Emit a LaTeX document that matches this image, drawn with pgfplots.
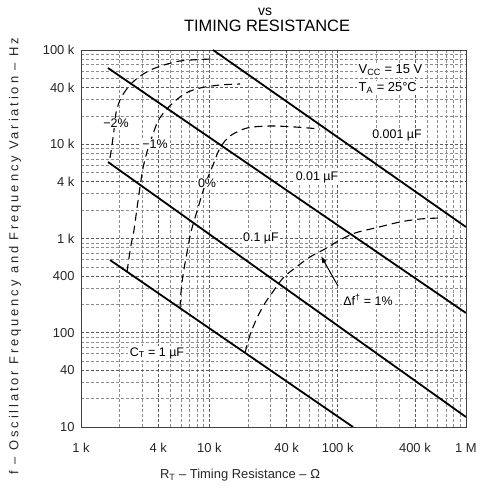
\documentclass[border=0pt]{standalone}
\usepackage{fontspec}
\setmainfont{Liberation Sans}
\usepackage{pgfplots}
\pgfplotsset{compat=1.18}
\usetikzlibrary{arrows.meta}
\newcommand{\ann}{\fontsize{12.5}{14}\selectfont}
\begin{document}
\begin{tikzpicture}
\begin{axis}[
  width=385bp, height=377bp, scale only axis,
  xmode=log, ymode=log,
  xmin=1000, xmax=1000000, ymin=10, ymax=100000,
  xtick={1000,4000,10000,40000,100000,400000,1000000},
  xticklabels={1 k,4 k,10 k,40 k,100 k,400 k,1 M},
  ytick={10,40,100,400,1000,4000,10000,40000,100000},
  yticklabels={10,40,100,400,1 k,4 k,10 k,40 k,100 k},
  minor xtick={2000,3000,5000,6000,7000,8000,9000,20000,30000,50000,60000,70000,80000,90000,200000,300000,500000,600000,700000,800000,900000},
  minor ytick={20,30,50,60,70,80,90,200,300,500,600,700,800,900,2000,3000,5000,6000,7000,8000,9000,20000,30000,50000,60000,70000,80000,90000},
  grid=both,
  major grid style={black!65, densely dashed, line width=0.6pt},
  minor grid style={black!45, densely dashed, line width=0.45pt},
  major tick length=0pt, minor tick length=0pt,
  axis line style={black!75, line width=0.8pt},
  tick label style={font=\fontsize{13}{15}\selectfont, text=black!85},
  xticklabel style={anchor=base, yshift=-25bp},
  yticklabel style={xshift=-3bp},
  title={TIMING RESISTANCE},
  title style={font=\fontsize{16.5}{19}\selectfont, at={(rel axis cs:0.4831,1.0477)}, anchor=center},
  xlabel={R\textsubscript{T} – Timing Resistance – Ω},
  xlabel style={font=\fontsize{13}{15}\selectfont, text=black!85, at={(rel axis cs:0.413,-0.128)}, anchor=center},
  ylabel={f – Oscillator Frequency and Frequency Variation – Hz},
  ylabel style={font=\fontsize{13}{15}\selectfont\addfontfeatures{LetterSpace=22}, text=black!85, at={(rel axis cs:-0.1714,0.4536)}, anchor=center},
]
% capacitor lines
\addplot[black, line width=1.8bp] coordinates {(10681,100000) (1000000,1324)};
\addplot[black, line width=1.8bp] coordinates {(1623,64420) (1000000,162)};
\addplot[black, line width=1.8bp] coordinates {(1623,6482) (1000000,12.76)};
\addplot[black, line width=1.8bp] coordinates {(1683,591) (131700,10)};
% frequency variation curves
\addplot[black, line width=1.1bp, dash pattern=on 8bp off 5bp, smooth, tension=0.5] coordinates {
 (1683,7145) (1744,9817) (1808,14165) (1874,21457) (2013,29476) (2242,37640) (2588,46900) (3153,57020) (3981,66000) (5908,76410) (10304,80270)};
\addplot[black, line width=1.1bp, dash pattern=on 8bp off 5bp, smooth, tension=0.5] coordinates {
 (2283,441) (2366,621) (2453,853) (2588,1231) (2732,2107) (2883,3519) (3042,5598) (3268,8277) (3575,11940) (3981,17650) (4597,23090) (5401,28760) (6579,34980) (8458,39530) (12110,42530) (17340,43590)};
\addplot[black, line width=1.1bp, dash pattern=on 8bp off 5bp, smooth, tension=0.5] coordinates {
 (5908,183) (6015,270.6) (6235,410) (6579,621) (7197,1172) (8158,2107) (9253,3695) (10681,6024) (12110,9125) (14490,12230) (19660,14870) (29700,15620) (46530,15240) (72850,14510)};
\addplot[black, line width=1.1bp, dash pattern=on 8bp off 5bp, smooth, tension=0.5] coordinates {
 (18967,61) (20750,94.6) (23520,143.4) (27150,206.8) (30790,264.1) (37510,381) (46530,486.4) (60880,636.5) (79650,773.8) (104300,964) (136500,1144) (195400,1292) (306000,1497) (438100,1610) (627500,1650)};
% annotations
\node[fill=white, inner sep=1bp, font=\ann] at (rel axis cs:0.0909,0.8064) {−2\%};
\node[fill=white, inner sep=1bp, font=\ann] at (rel axis cs:0.1922,0.7507) {−1\%};
\node[fill=white, inner sep=1bp, font=\ann] at (rel axis cs:0.3273,0.6472) {0\%};
\node[fill=white, inner sep=1.5bp, font=\ann] at (rel axis cs:0.8208,0.7745) {0.001 µF};
\node[fill=white, inner sep=1.5bp, font=\ann] at (rel axis cs:0.6130,0.6631) {0.01 µF};
\node[fill=white, inner sep=1.5bp, font=\ann] at (rel axis cs:0.4675,0.5013) {0.1 µF};
\node[fill=white, inner sep=1.5bp, font=\ann] at (rel axis cs:0.1974,0.1963) {C\textsubscript{T} = 1 µF};
\node[fill=white, inner sep=1.5bp, font=\ann] at (rel axis cs:0.7455,0.3369) {Δf\textsuperscript{†} = 1\%};
\node[fill=white, inner sep=1.5bp, anchor=west, font=\fontsize{13}{15}\selectfont] at (rel axis cs:0.7169,0.9469) {V\textsubscript{CC} = 15 V};
\node[fill=white, inner sep=1.5bp, anchor=west, font=\fontsize{13}{15}\selectfont] at (rel axis cs:0.7169,0.8992) {T\textsubscript{A} = 25°C};
\draw[-{Latex[length=7bp,width=5bp]}, line width=1bp] (rel axis cs:0.6675,0.3740) -- (rel axis cs:0.6234,0.4536);
\coordinate (vs) at (rel axis cs:0.478,1.1008);
\end{axis}
\node[font=\fontsize{14}{16}\selectfont] at (vs) {vs};
\pgfresetboundingbox
\path (current axis.south west) ++(-81bp,-64bp) coordinate (bbsw);
\path (current axis.north east) ++(14bp,50bp) coordinate (bbne);
\useasboundingbox (bbsw) rectangle (bbne);
\end{tikzpicture}
\end{document}
